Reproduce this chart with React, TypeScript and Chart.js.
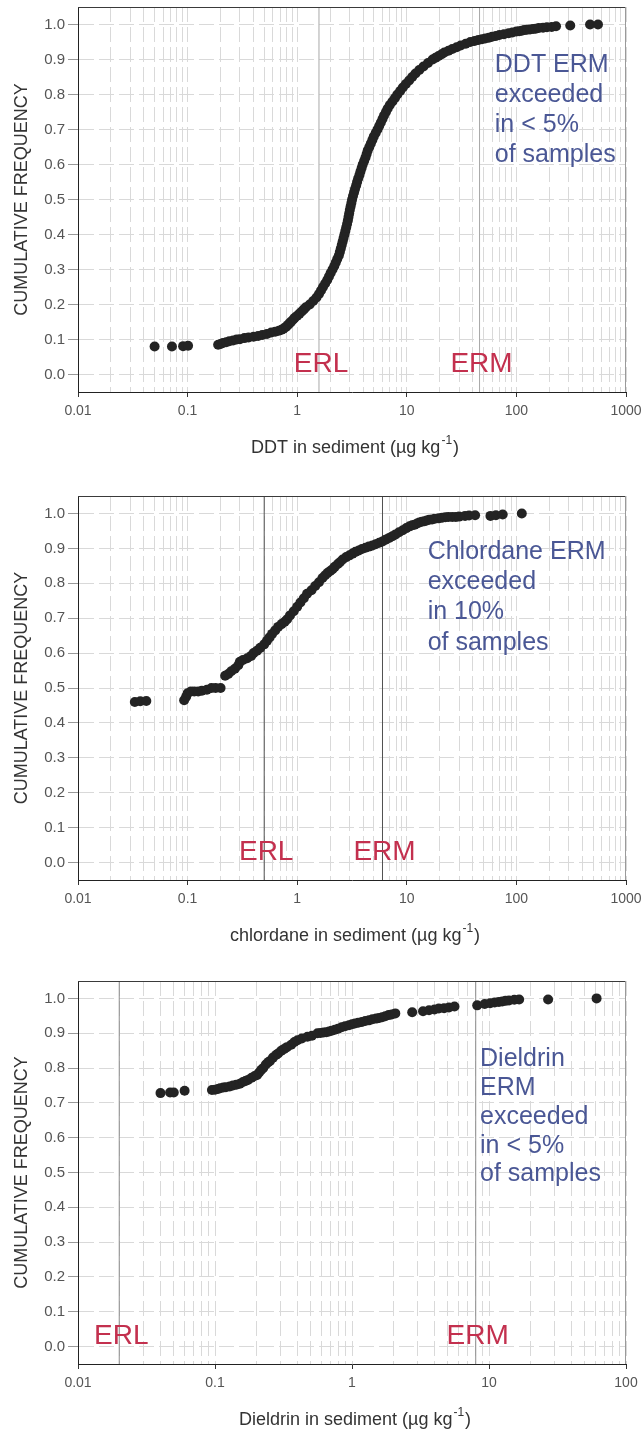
import React, { useEffect, useRef } from "react";
import { Chart, registerables } from "chart.js";

Chart.register(...registerables);

const FONT = '"Liberation Sans", Arial, Helvetica, sans-serif';

// ---------- DATA ----------
// DDT: concentration (µg/kg) vs cumulative frequency
const ddtConc = [
  0.05, 0.072, 0.091, 0.101, 0.19, 0.2, 0.21, 0.225, 0.24, 0.26, 0.28, 0.3, 0.33, 0.36, 0.4, 0.44, 0.48, 0.53,
  0.58, 0.63, 0.68, 0.72, 0.75, 0.79, 0.82, 0.85, 0.88, 0.92, 0.95, 1.0, 1.05, 1.1, 1.15, 1.2, 1.3, 1.4, 1.5,
  1.58, 1.65, 1.72, 1.8, 1.88, 1.95, 2.02, 2.1, 2.18, 2.25, 2.32, 2.4, 2.45, 2.5, 2.55, 2.6, 2.65, 2.7, 2.75,
  2.8, 2.85, 2.9, 2.94, 2.98, 3.02, 3.07, 3.12, 3.17, 3.23, 3.3, 3.37, 3.45, 3.52, 3.6, 3.7, 3.78, 3.87, 3.96,
  4.08, 4.2, 4.3, 4.4, 4.55, 4.7, 4.85, 5.0, 5.2, 5.4, 5.6, 5.8, 6.0, 6.2, 6.45, 6.7, 7.0, 7.4, 7.8, 8.2, 8.7,
  9.2, 9.8, 10.5, 11.2, 12, 13, 14.2, 15.6, 17.2, 18.3, 19.5, 20.8, 22, 24, 26, 28.5, 31, 34.5, 38, 41.5, 45,
  48.5, 52, 56, 60, 65, 70, 77, 85, 92, 100, 106, 112, 118, 125, 133, 142, 150, 160, 175, 190, 210, 230, 310,
  470, 555,
];
const ddtFreq = [
  0.08, 0.08, 0.081, 0.082, 0.085, 0.087, 0.09, 0.092, 0.095, 0.097, 0.1, 0.101, 0.104, 0.106, 0.108, 0.11,
  0.113, 0.116, 0.12, 0.122, 0.125, 0.128, 0.131, 0.136, 0.141, 0.146, 0.151, 0.157, 0.162, 0.168, 0.174, 0.18,
  0.186, 0.192, 0.2, 0.21, 0.22, 0.23, 0.24, 0.25, 0.26, 0.27, 0.28, 0.29, 0.3, 0.31, 0.32, 0.33, 0.34, 0.35,
  0.36, 0.37, 0.38, 0.39, 0.4, 0.41, 0.42, 0.43, 0.44, 0.45, 0.46, 0.47, 0.48, 0.49, 0.5, 0.51, 0.52, 0.53,
  0.54, 0.55, 0.56, 0.57, 0.58, 0.59, 0.6, 0.61, 0.62, 0.63, 0.64, 0.65, 0.66, 0.67, 0.68, 0.69, 0.7, 0.71,
  0.72, 0.73, 0.74, 0.75, 0.76, 0.77, 0.78, 0.79, 0.8, 0.81, 0.82, 0.83, 0.84, 0.85, 0.86, 0.87, 0.88, 0.89,
  0.9, 0.905, 0.91, 0.915, 0.92, 0.925, 0.93, 0.935, 0.94, 0.945, 0.95, 0.953, 0.956, 0.958, 0.96, 0.962, 0.965,
  0.967, 0.97, 0.972, 0.975, 0.977, 0.98, 0.981, 0.982, 0.984, 0.985, 0.986, 0.987, 0.988, 0.99, 0.991, 0.992,
  0.993, 0.995, 0.997, 1.0, 1.0,
];

// Chlordane
const chlordaneConc = [
  0.033, 0.037, 0.042, 0.093, 0.097, 0.1, 0.107, 0.115, 0.125, 0.135, 0.15, 0.165, 0.18, 0.2, 0.22, 0.235,
  0.25, 0.27, 0.29, 0.3, 0.32, 0.35, 0.38, 0.4, 0.43, 0.46, 0.5, 0.53, 0.56, 0.59, 0.63, 0.67, 0.72, 0.77,
  0.81, 0.86, 0.93, 1.0, 1.07, 1.15, 1.23, 1.35, 1.46, 1.58, 1.7, 1.8, 1.9, 2.0, 2.1, 2.2, 2.35, 2.45, 2.6,
  2.8, 3.0, 3.2, 3.4, 3.65, 3.9, 4.2, 4.5, 4.85, 5.2, 5.6, 6.0, 6.4, 6.9, 7.4, 7.9, 8.5, 9.2, 9.9, 10.6, 11.2,
  11.8, 12.4, 13, 13.7, 14.5, 15.2, 16, 17, 18, 19.5, 21, 22.5, 24, 26, 28, 30, 34, 37, 42, 58, 65, 75, 112,
];
const chlordaneFreq = [
  0.46, 0.462, 0.463, 0.465, 0.475, 0.485, 0.49, 0.49, 0.49, 0.492, 0.495, 0.5, 0.5, 0.5, 0.535, 0.54, 0.548,
  0.555, 0.565, 0.575, 0.58, 0.585, 0.592, 0.6, 0.607, 0.615, 0.625, 0.635, 0.645, 0.655, 0.665, 0.675, 0.683,
  0.69, 0.697, 0.708, 0.72, 0.733, 0.745, 0.757, 0.77, 0.78, 0.792, 0.803, 0.815, 0.823, 0.83, 0.835, 0.84,
  0.847, 0.855, 0.86, 0.868, 0.875, 0.88, 0.885, 0.89, 0.894, 0.898, 0.902, 0.905, 0.908, 0.912, 0.916, 0.92,
  0.925, 0.93, 0.935, 0.94, 0.946, 0.952, 0.958, 0.963, 0.966, 0.968, 0.971, 0.974, 0.976, 0.978, 0.98, 0.982,
  0.983, 0.985, 0.986, 0.988, 0.989, 0.99, 0.99, 0.99, 0.991, 0.993, 0.994, 0.995, 0.993, 0.995, 0.997, 1.0,
];

// Dieldrin
const dieldrinConc = [
  0.04, 0.047, 0.05, 0.06, 0.095, 0.1, 0.105, 0.109, 0.115, 0.12, 0.128, 0.135, 0.143, 0.152, 0.16, 0.167,
  0.174, 0.185, 0.195, 0.203, 0.21, 0.218, 0.225, 0.235, 0.245, 0.252, 0.265, 0.28, 0.289, 0.305, 0.32, 0.335,
  0.36, 0.38, 0.4, 0.43, 0.473, 0.51, 0.56, 0.59, 0.62, 0.65, 0.68, 0.71, 0.75, 0.79, 0.84, 0.89, 0.95, 1.0,
  1.05, 1.11, 1.18, 1.25, 1.33, 1.41, 1.5, 1.58, 1.66, 1.75, 1.85, 1.95, 2.07, 2.75, 3.3, 3.65, 4.0, 4.3, 4.7,
  5.1, 5.6, 8.2, 9.3, 10.2, 11, 11.8, 12.5, 13.2, 14, 15.3, 16.6, 27, 61,
];
const dieldrinFreq = [
  0.728, 0.73, 0.73, 0.735, 0.737, 0.738, 0.74, 0.742, 0.744, 0.745, 0.747, 0.75, 0.752, 0.755, 0.76, 0.763,
  0.766, 0.772, 0.777, 0.78, 0.787, 0.795, 0.8, 0.81, 0.817, 0.82, 0.83, 0.838, 0.842, 0.85, 0.855, 0.86, 0.867,
  0.875, 0.88, 0.885, 0.89, 0.893, 0.9, 0.901, 0.902, 0.903, 0.905, 0.907, 0.91, 0.913, 0.917, 0.92, 0.923,
  0.926, 0.928, 0.93, 0.932, 0.935, 0.937, 0.94, 0.942, 0.944, 0.946, 0.949, 0.952, 0.954, 0.957, 0.96, 0.963,
  0.966, 0.968, 0.971, 0.972, 0.974, 0.977, 0.98, 0.984, 0.986, 0.988, 0.99, 0.991, 0.993, 0.994, 0.996, 0.997,
  0.997, 1.0,
];

// Sediment quality guidelines: [ERL, ERM]
const thresholdLabels = ["ERL", "ERM"];
const ddtThresholds = [1.58, 46.1];
const chlordaneThresholds = [0.5, 6];
const dieldrinThresholds = [0.02, 8];

// Axis ticks
const yTickValues = [0, 0.1, 0.2, 0.3, 0.4, 0.5, 0.6, 0.7, 0.8, 0.9, 1.0];
const yTickLabels = ["0.0", "0.1", "0.2", "0.3", "0.4", "0.5", "0.6", "0.7", "0.8", "0.9", "1.0"];
const decades1000 = [0.01, 0.1, 1, 10, 100, 1000];
const decadeLabels1000 = ["0.01", "0.1", "1", "10", "100", "1000"];
const decades100 = [0.01, 0.1, 1, 10, 100];
const decadeLabels100 = ["0.01", "0.1", "1", "10", "100"];

// Texts
const yTitle = "CUMULATIVE FREQUENCY";
const ddtTitle = ["DDT in sediment (\u00b5g kg", "-1", ")"];
const chlordaneTitle = ["chlordane in sediment (\u00b5g kg", "-1", ")"];
const dieldrinTitle = ["Dieldrin in sediment (\u00b5g kg", "-1", ")"];
const ddtNote = ["DDT ERM", "exceeded", "in < 5%", "of samples"];
const chlordaneNote = ["Chlordane ERM", "exceeded", "in 10%", "of samples"];
const dieldrinNote = ["Dieldrin", "ERM", "exceeded", "in < 5%", "of samples"];

// ---------- COMPONENT ----------
type PanelProps = {
  top: number;
  height: number;
  padTop: number;
  decades: number[];
  decadeLabels: string[];
  conc: number[];
  freq: number[];
  thresholds: number[];
  lineColor: string;
  note: string[];
  noteAt: [number, number];
  noteStep: number;
  xTitle: string[];
};

const isDecade = (v: number) => Math.abs(Math.log10(v) - Math.round(Math.log10(v))) < 1e-9;

function Panel(p: PanelProps) {
  const ref = useRef<HTMLCanvasElement | null>(null);

  useEffect(() => {
    if (!ref.current) return;
    const gridValues: number[] = [];
    p.decades.forEach((d, i) => {
      if (i === p.decades.length - 1) gridValues.push(d);
      else for (let k = 1; k <= 9; k++) gridValues.push(k * d);
    });

    const overlay = {
      id: "overlay",
      afterDatasetsDraw(chart: any) {
        const { ctx, chartArea: a, scales } = chart;
        const xs = scales.x;
        const ys = scales.y;
        ctx.save();
        // frame top / right
        ctx.lineWidth = 1;
        ctx.strokeStyle = "#3a3a3a";
        ctx.beginPath();
        ctx.moveTo(a.left, a.top + 0.5);
        ctx.lineTo(a.right, a.top + 0.5);
        ctx.stroke();
        ctx.strokeStyle = "#9a9a9a";
        ctx.beginPath();
        ctx.moveTo(a.right - 0.5, a.top);
        ctx.lineTo(a.right - 0.5, a.bottom);
        ctx.stroke();

        // ERL / ERM labels
        ctx.font = `28px ${FONT}`;
        ctx.fillStyle = "#c3304e";
        ctx.textAlign = "center";
        ctx.textBaseline = "middle";
        p.thresholds.forEach((t, i) => {
          ctx.fillText(thresholdLabels[i], xs.getPixelForValue(t) + 2, ys.getPixelForValue(0.03));
        });

        // note
        ctx.font = `25px ${FONT}`;
        ctx.fillStyle = "#4a5795";
        ctx.textAlign = "left";
        const nx = xs.getPixelForValue(p.noteAt[0]);
        const ny = ys.getPixelForValue(p.noteAt[1]);
        p.note.forEach((s, i) => ctx.fillText(s, nx, ny + i * p.noteStep));

        // x title with superscript
        ctx.fillStyle = "#333";
        ctx.textBaseline = "middle";
        ctx.font = `18px ${FONT}`;
        const w0 = ctx.measureText(p.xTitle[0]).width;
        const w2 = ctx.measureText(p.xTitle[2]).width;
        ctx.font = `12px ${FONT}`;
        const w1 = ctx.measureText(p.xTitle[1]).width + 2;
        const total = w0 + w1 + w2;
        const tx = (a.left + a.right) / 2 + 3 - total / 2;
        const ty = a.bottom + 56;
        ctx.font = `18px ${FONT}`;
        ctx.fillText(p.xTitle[0], tx, ty);
        ctx.font = `12px ${FONT}`;
        ctx.fillText(p.xTitle[1], tx + w0 + 1, ty - 7);
        ctx.font = `18px ${FONT}`;
        ctx.fillText(p.xTitle[2], tx + w0 + w1, ty);

        // y title
        ctx.save();
        ctx.translate(22, (a.top + a.bottom) / 2);
        ctx.rotate(-Math.PI / 2);
        ctx.textAlign = "center";
        ctx.font = `18px ${FONT}`;
        ctx.fillStyle = "#333";
        ctx.fillText(yTitle, 0, 0);
        ctx.restore();

        ctx.restore();
      },
    };

    const chart = new Chart(ref.current, {
      type: "scatter",
      data: {
        datasets: [
          {
            data: p.conc.map((c, i) => ({ x: c, y: p.freq[i] })),
            pointRadius: 5,
            pointBackgroundColor: "#232323",
            pointBorderWidth: 0,
            pointHoverRadius: 5,
            showLine: false,
          } as any,
          ...p.thresholds.map((t) => ({
            type: "line",
            data: [
              { x: t, y: -0.05 },
              { x: t, y: 1.05 },
            ],
            borderColor: p.lineColor,
            borderWidth: 1,
            pointRadius: 0,
            showLine: true,
          })),
        ],
      },
      options: {
        animation: false,
        responsive: false,
        events: [],
        layout: { padding: { top: p.padTop, right: 18, left: 0, bottom: 0 } },
        plugins: { legend: { display: false }, tooltip: { enabled: false } },
        scales: {
          x: {
            type: "logarithmic",
            min: p.decades[0],
            max: p.decades[p.decades.length - 1],
            position: "bottom",
            afterBuildTicks: (s: any) => {
              s.ticks = gridValues.map((v) => ({ value: v, major: isDecade(v) }));
            },
            afterFit: (s: any) => {
              s.height = 70;
              s.paddingLeft = 0;
              s.paddingRight = 0;
            },
            ticks: {
              autoSkip: false,
              maxRotation: 0,
              minRotation: 0,
              padding: 6,
              color: "#555",
              font: { family: FONT, size: 14 },
              callback: (v: any) => {
                const k = p.decades.findIndex((d) => Math.abs(d - Number(v)) / d < 1e-6);
                return k >= 0 ? p.decadeLabels[k] : "";
              },
            },
            grid: {
              color: "#d9d9d9",
              lineWidth: 1,
              tickLength: 5,
              tickColor: (c: any) => (c.tick && isDecade(c.tick.value) ? "#333" : "rgba(0,0,0,0)"),
            },
            border: { display: true, color: "#222", width: 1, dash: [15, 5] },
          },
          y: {
            type: "linear",
            min: -0.05,
            max: 1.05,
            afterBuildTicks: (s: any) => {
              s.ticks = yTickValues.map((v) => ({ value: v }));
            },
            afterFit: (s: any) => {
              s.width = 78;
              s.paddingTop = 0;
              s.paddingBottom = 0;
            },
            ticks: {
              padding: 3,
              color: "#555",
              font: { family: FONT, size: 15 },
              callback: (_v: any, i: number) => yTickLabels[i],
            },
            grid: { color: "#d9d9d9", lineWidth: 1, tickLength: 10, tickColor: "#999" },
            border: { display: true, color: "#222", width: 1, dash: [15, 5] },
          },
        },
      } as any,
      plugins: [overlay as any],
    });
    return () => chart.destroy();
  }, []);

  return (
    <canvas
      ref={ref}
      width={644}
      height={p.height}
      style={{ position: "absolute", left: 0, top: p.top, width: 644, height: p.height }}
    />
  );
}

export default function App() {
  return (
    <div style={{ position: "absolute", left: 0, top: 0, width: 644, height: 1435, background: "#fff", overflow: "hidden" }}>
      <Panel
        top={0}
        height={462}
        padTop={7}
        decades={decades1000}
        decadeLabels={decadeLabels1000}
        conc={ddtConc}
        freq={ddtFreq}
        thresholds={ddtThresholds}
        lineColor="#a8a8a8"
        note={ddtNote}
        noteAt={[63.5, 0.883]}
        noteStep={30}
        xTitle={ddtTitle}
      />
      <Panel
        top={480}
        height={470}
        padTop={16}
        decades={decades1000}
        decadeLabels={decadeLabels1000}
        conc={chlordaneConc}
        freq={chlordaneFreq}
        thresholds={chlordaneThresholds}
        lineColor="#505050"
        note={chlordaneNote}
        noteAt={[15.5, 0.89]}
        noteStep={30.3}
        xTitle={chlordaneTitle}
      />
      <Panel
        top={965}
        height={469}
        padTop={16}
        decades={decades100}
        decadeLabels={decadeLabels100}
        conc={dieldrinConc}
        freq={dieldrinFreq}
        thresholds={dieldrinThresholds}
        lineColor="#8c8c8c"
        note={dieldrinNote}
        noteAt={[8.6, 0.825]}
        noteStep={28.8}
        xTitle={dieldrinTitle}
      />
    </div>
  );
}
